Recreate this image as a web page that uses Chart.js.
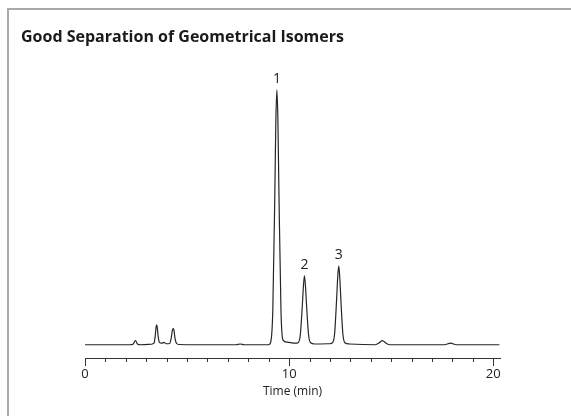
<!DOCTYPE html>
<html>
<head>
<meta charset="utf-8">
<script src="https://cdn.jsdelivr.net/npm/chart.js@4.4.0/dist/chart.umd.min.js"></script>
<style>
  body { margin: 0; background: #fff; }
  #wrap { position: relative; width: 571px; height: 416px; overflow: hidden; }
  #frame { position: absolute; left: 7px; top: 8px; width: 600px; height: 500px;
           border-left: 2px solid #a9a9a9; border-top: 2px solid #a9a9a9; }
  #chart { position: absolute; left: 0; top: 0; }
</style>
</head>
<body>
<div id="wrap">
  <div id="frame"></div>
  <canvas id="chart" width="571" height="416"></canvas>
</div>
<script>
// retention time (min) and detector signal (peak 1 = 100)
const times = [
  0, 2.2, 2.35, 2.47, 2.58, 2.75,
  3.25, 3.38, 3.44, 3.48, 3.51, 3.54, 3.58, 3.65, 3.75, 3.87, 3.98,
  4.15, 4.22, 4.28, 4.32, 4.36, 4.41, 4.48, 4.6,
  5.5, 7.4, 7.6, 7.8,
  9.0, 9.1, 9.2, 9.3, 9.35, 9.4, 9.45, 9.5, 9.6, 9.7, 9.9,
  10.3, 10.45, 10.55, 10.65, 10.7, 10.75, 10.8, 10.85, 10.95, 11.05, 11.25,
  12.0, 12.13, 12.23, 12.33, 12.38, 12.43, 12.48, 12.53, 12.63, 12.73, 12.95,
  14.2, 14.4, 14.57, 14.75, 14.95,
  17.6, 17.9, 18.2, 20.3
];
const signal = [
  0, 0, 0.2, 1.6, 0.2, 0,
  0.2, 0.6, 3.5, 6.8, 7.8, 6.8, 3.5, 0.9, 0.6, 0.9, 0.4,
  0.5, 2.5, 5.6, 6.4, 5.6, 2.5, 0.6, 0.1,
  0, 0, 0.3, 0,
  0, 1.1, 13.5, 60, 88, 100, 88, 60, 13.5, 1.8, 1.0,
  0.6, 0.9, 4, 16, 23, 27, 23, 16, 4, 0.8, 0.3,
  0.4, 0.8, 4.5, 18.5, 26.5, 31, 26.5, 18.5, 4.5, 0.8, 0.3,
  0, 0.7, 1.6, 0.6, 0,
  0, 0.6, 0, 0
];
const peakNames = ['1', '2', '3'];
const peakTimes = [9.4, 10.75, 12.43];
const labeledTicks = [0, 10, 20];

const points = times.map((t, i) => ({ x: t, y: signal[i] }));

// minor/major tick marks under the time axis, plus numbers over the peaks
const axisMarks = {
  id: 'axisMarks',
  afterDraw(chart) {
    const ctx = chart.ctx;
    const xs = chart.scales.x, ys = chart.scales.y;
    const base = chart.chartArea.bottom;
    ctx.save();
    ctx.strokeStyle = '#333';
    ctx.lineWidth = 1;
    for (let v = 0; v <= 20; v++) {
      const px = Math.round(xs.getPixelForValue(v)) + 0.5;
      const len = v % 10 === 0 ? 8 : 4;
      ctx.beginPath();
      ctx.moveTo(px, base);
      ctx.lineTo(px, base + len);
      ctx.stroke();
    }
    ctx.fillStyle = '#222';
    ctx.font = '14px "Open Sans"';
    ctx.textAlign = 'center';
    ctx.textBaseline = 'bottom';
    peakTimes.forEach((t, i) => {
      const idx = times.indexOf(t);
      const px = xs.getPixelForValue(t);
      const py = ys.getPixelForValue(signal[idx]);
      ctx.fillText(peakNames[i], px, py - 4);
    });
    ctx.restore();
  }
};

new Chart(document.getElementById('chart'), {
  type: 'line',
  data: {
    datasets: [{
      data: points,
      borderColor: '#262626',
      borderWidth: 1.2,
      pointRadius: 0,
      cubicInterpolationMode: 'monotone',
      fill: false
    }]
  },
  options: {
    responsive: false,
    animation: false,
    layout: { padding: { left: 21, right: 71, top: 8, bottom: 17 } },
    plugins: {
      legend: { display: false },
      tooltip: { enabled: false },
      title: {
        display: true,
        text: 'Good Separation of Geometrical Isomers',
        align: 'start',
        color: '#1a1a1a',
        font: { family: 'Open Sans', size: 16, weight: 'bold' },
        padding: { top: 20, bottom: 6 }
      }
    },
    scales: {
      x: {
        type: 'linear',
        min: 0,
        max: 20.33,
        afterBuildTicks(scale) {
          scale.ticks = labeledTicks.map(v => ({ value: v }));
        },
        grid: { display: false, drawTicks: false, tickLength: 0 },
        border: { display: true, color: '#333', width: 1 },
        ticks: {
          padding: 8,
          color: '#222',
          maxRotation: 0,
          font: { family: 'Open Sans', size: 13 }
        },
        title: {
          display: true,
          text: 'Time (min)',
          color: '#222',
          font: { family: 'Open Sans', size: 12 },
          padding: { top: -5, bottom: 0 }
        }
      },
      y: {
        min: -5.2,
        max: 114.4,
        afterFit(scale) { scale.width = 64; },
        grid: { display: false, drawTicks: false },
        border: { display: false },
        ticks: { display: false }
      }
    }
  },
  plugins: [axisMarks]
});
</script>
</body>
</html>
